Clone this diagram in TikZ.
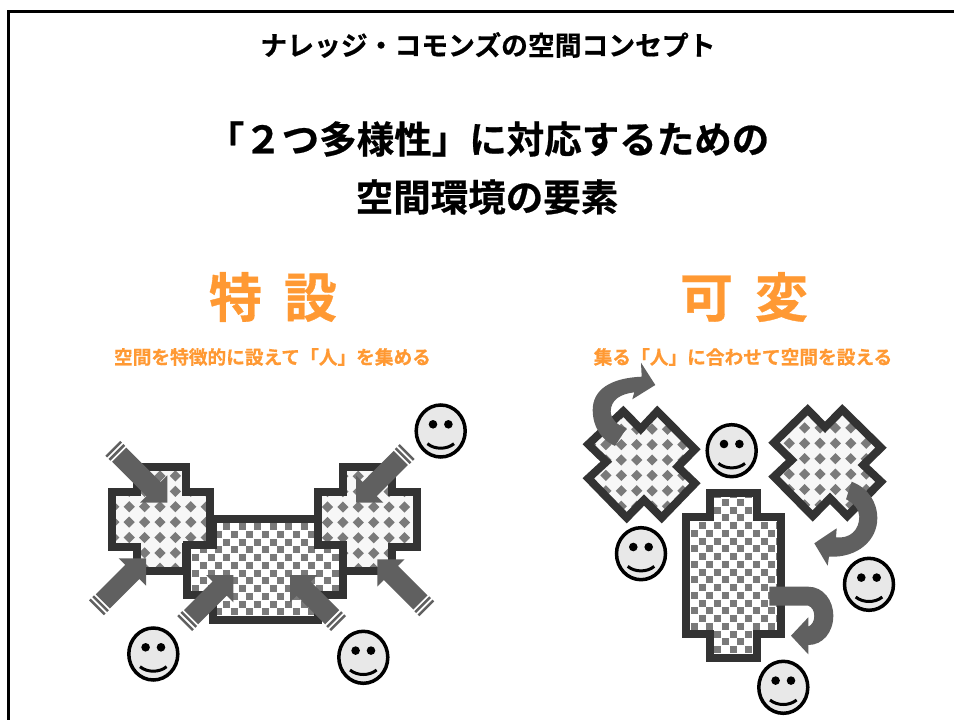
\documentclass[tikz,border=0pt]{standalone}
\usepackage{fontspec}
\setmainfont{Liberation Sans}
\newfontfamily\jp{Noto Sans CJK JP}[BoldFont={Noto Sans CJK JP Bold},BoldFeatures={FakeBold=0.6}]
\definecolor{orng}{HTML}{FF9933}
\definecolor{edge}{HTML}{333333}
\definecolor{arrowgray}{HTML}{606060}
\definecolor{cellgray}{HTML}{7A7A7A}
\definecolor{facegray}{HTML}{E8E8E8}
\tikzset{
  framebox/.style={draw=black,line width=3pt},
  outline/.style={draw=edge,line width=8pt,miter limit=10,line join=miter},
  blockfill/.style={fill=arrowgray,draw=none},
  txt/.style={inner sep=0pt,font=\jp\bfseries},
}
\newcommand{\sizedtext}[2]{\fontsize{#1}{#1}\selectfont #2}
\newcommand{\checkershape}[3]{%
  \begin{scope}
    \clip #1;
    \fill[white] #1;
    \foreach \i in {-14,...,14}{\foreach \j in {-22,...,22}{
      \pgfmathtruncatemacro{\cellodd}{mod(abs(\i+\j),2)}
      \ifnum\cellodd=0
        \fill[cellgray] ({#2+\i*7.75-3.5},{#3+\j*7.75-3.5}) rectangle ++(7,7);
      \fi
    }}
  \end{scope}
  \draw[outline] #1;
}
\newcommand{\diamondshape}[3]{%
  \begin{scope}
    \clip #1;
    \fill[black!3] #1;
    \foreach \i in {-7,...,7}{\foreach \j in {-7,...,7}{
      \fill[cellgray] ({#2+\i*15.4-5.6},{#3+\j*15.4}) -- ++(5.6,-5.6) -- ++(5.6,5.6) -- ++(-5.6,5.6) -- cycle;
    }}
  \end{scope}
  \draw[outline] #1;
}
\newcommand{\blockarrow}[4]{%
  \begin{scope}[shift={(#1,#2)},rotate=#3]
    \fill[blockfill] (0,0) -- (-19.3,19.3) -- (-19.3,10) -- ({-#4+11},10) -- ({-#4+11},-10) -- (-19.3,-10) -- (-19.3,-19.3) -- cycle;
    \fill[blockfill] ({-#4+6.5},-10.5) rectangle ({-#4+9},10.5);
    \fill[blockfill] ({-#4+2},-10.5) rectangle ({-#4+4.5},10.5);
  \end{scope}
}
\newcommand{\smiley}[2]{%
  \begin{scope}[shift={(#1,#2)}]
    \draw[black,fill=facegray,line width=3.5pt] (0,0) ellipse [x radius=24.5,y radius=26];
    \fill[black] (-7.7,-6.7) circle (4.3);
    \fill[black] (7.7,-6.7) circle (4.3);
    \draw[black,line width=3pt] (-13.3,12.7) .. controls (-6,18.7) and (6,18.7) .. (13.3,12.7);
  \end{scope}
}
\begin{document}
\begin{tikzpicture}[x=1pt,y=-1pt]
\useasboundingbox (0,0) rectangle (954,720);
\fill[white] (0,0) rectangle (954,720);
\draw[framebox] (8,11) rectangle (965,735);

\node[txt] (t1) at (488,45) {\sizedtext{26.8}{ナレッジ・コモンズの空間コンセプト}};
\node[txt] (t2) at (488,139) {\sizedtext{37.5}{「２つ多様性」に対応するための}};
\node[txt] (t3) at (487,197) {\sizedtext{37.5}{空間環境の要素}};
\node[txt,text=orng] (h1) at (273,297) {\sizedtext{53}{特\hspace{22pt}設}};
\node[txt,text=orng] (h2) at (744,297) {\sizedtext{53}{可\hspace{22pt}変}};
\node[txt,text=orng] (s1) at (272.5,357) {\sizedtext{18.7}{空間を特徴的に設えて「人」を集める}};
\node[txt,text=orng] (s2) at (743,357) {\sizedtext{18.7}{集る「人」に合わせて空間を設える}};

% left group
\diamondshape{(136.7,466.7) -- (185.7,466.7) -- (185.7,491.7) -- (210,491.7) -- (210,546.7) -- (185.7,546.7) -- (185.7,571) -- (136.7,571) -- (136.7,546.7) -- (111.7,546.7) -- (111.7,491.7) -- (136.7,491.7) -- cycle}{160}{506.7}
\diamondshape{(343.3,466.7) -- (391.7,466.7) -- (391.7,491.7) -- (416.7,491.7) -- (416.7,546.7) -- (391.7,546.7) -- (391.7,571) -- (343.3,571) -- (343.3,546.7) -- (318.3,546.7) -- (318.3,491.7) -- (343.3,491.7) -- cycle}{358.3}{507}
\checkershape{(212.7,519) -- (318.3,519) -- (318.3,545) -- (343.3,545) -- (343.3,595) -- (318.3,595) -- (318.3,620) -- (212.7,620) -- (212.7,595) -- (187.3,595) -- (187.3,545) -- (212.7,545) -- cycle}{226.7}{526.7}

\blockarrow{167.3}{502.7}{-45}{79}
\blockarrow{146}{558.3}{45}{72}
\blockarrow{233.3}{575}{45}{70.7}
\blockarrow{290}{575}{135}{70.7}
\blockarrow{377.3}{559.3}{135}{72}
\blockarrow{356}{502.7}{-135}{74.3}

% right group
\diamondshape{(623.3,411.3) -- (640.7,429) -- (657.3,411.3) -- (695,449.3) -- (677.7,466.7) -- (695,483.3) -- (661.7,517.7) -- (644,500) -- (626.7,517.7) -- (588.3,478.3) -- (606.3,461.7) -- (588.3,444.3) -- cycle}{636.7}{460}
\diamondshape{(807.7,409.7) -- (825,427.3) -- (842.3,409.7) -- (881,447.7) -- (863.3,465) -- (881,481.7) -- (847.3,516) -- (830,498.3) -- (812.7,516) -- (774,476.7) -- (791.7,460) -- (774,442.7) -- cycle}{820}{443.3}
\checkershape{(709.7,493.3) -- (757,493.3) -- (757,517.3) -- (781,517.3) -- (781,634.3) -- (757,634.3) -- (757,658.3) -- (709.7,658.3) -- (709.7,634.3) -- (685.7,634.3) -- (685.7,517.3) -- (709.7,517.3) -- cycle}{694.3}{533.3}

\fill[blockfill] (615,446) .. controls (603,441) and (592.7,428) .. (592.7,410) .. controls (592.7,390) and (610,378) .. (641.7,376.7) -- (641,362.7) -- (655.3,385) -- (632.3,399.3) -- (634.3,392.3) .. controls (620,394) and (610.7,400) .. (610.7,411.7) .. controls (610.7,418) and (617,426) .. (626.7,428) -- cycle;
\fill[blockfill] (851.7,481.7) .. controls (868,488) and (877.3,502) .. (877.3,518.3) .. controls (877.3,540) and (858,558) .. (829,556.7) -- (827.7,565.7) -- (814.3,543.3) -- (836.7,528.3) -- (836,537.3) .. controls (850,539) and (859.3,530) .. (859.3,516.7) .. controls (859.3,510) and (854,503) .. (846,499.3) -- cycle;
\fill[blockfill] (769.3,586.7) -- (808.3,586.7) .. controls (823,586.7) and (833.3,600) .. (833.3,615.7) .. controls (833.3,632) and (823,645) .. (808.3,645) -- (808.3,654.3) -- (791,635.7) -- (808.3,617.3) -- (808.3,626.7) .. controls (812,625) and (814.3,621) .. (814.3,616) .. controls (814.3,611) and (812,607) .. (808.3,605.7) -- (769.3,605.7) -- cycle;

\smiley{440.7}{431}
\smiley{153.3}{654}
\smiley{363.3}{657.3}
\smiley{731.7}{450.7}
\smiley{641}{553.7}
\smiley{869}{584.3}
\smiley{783.3}{687.3}
\end{tikzpicture}
\end{document}
